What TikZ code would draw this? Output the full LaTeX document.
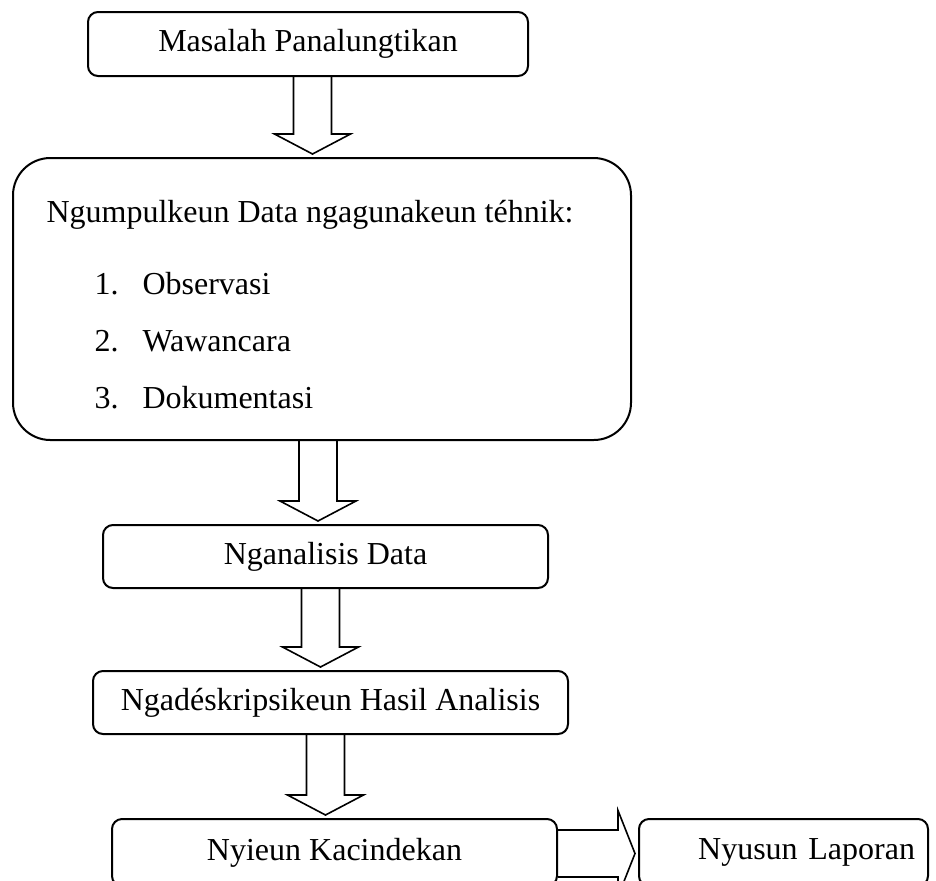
\documentclass[tikz,border=0pt]{standalone}
\usepackage{fontspec}
\setmainfont{Liberation Serif}
\usetikzlibrary{calc, positioning}
\tikzset{
    kotak/.style={rectangle, rounded corners=3.75pt, draw=black, line width=0.75pt, inner sep=0pt},
    kotakgede/.style={rectangle, rounded corners=14pt, draw=black, line width=0.75pt, inner sep=0pt},
    teks/.style={inner sep=0pt, anchor=base west},
    panah/.style={draw=black, line width=0.6pt, line join=miter}}
% panah blok ka handap: asal, tujuan, x sumbu
\newcommand{\panahturun}[3]{%
    \coordinate (pangkal) at (#1.south -| #3,0);
    \coordinate (tmp) at (#2.north -| #3,0);
    \coordinate (tungtung) at ($(tmp)+(0,-3)$);
    \draw[panah] ($(pangkal)+(-19,0)$) -- ($(tungtung)+(-19,-20)$) -- ($(tungtung)+(-38,-20)$)
        -- (tungtung) -- ($(tungtung)+(38,-20)$) -- ($(tungtung)+(19,-20)$) -- ($(pangkal)+(19,0)$);}
% panah blok ka katuhu: asal, tujuan
\newcommand{\panahkanan}[2]{%
    \coordinate (pangkal) at ($(#1.east)+(0,1)$);
    \coordinate (tungtung) at ($(#2.west)+(-3,1)$);
    \draw[panah] ($(pangkal)+(0,-23.5)$) -- ($(tungtung)+(-17,-23.5)$) -- ($(tungtung)+(-17,-43)$)
        -- (tungtung) -- ($(tungtung)+(-17,43)$) -- ($(tungtung)+(-17,23.5)$) -- ($(pangkal)+(0,23.5)$);}

\begin{document}
\begin{tikzpicture}[x=0.375pt, y=-0.375pt, font=\fontsize{12pt}{14pt}\selectfont]
    \useasboundingbox (0,0) rectangle (936,880);
    % kotak-kotak
    \node (masalah) [kotak, minimum width=165pt, minimum height=24pt] at (308,44) {Masalah Panalungtikan};
    \node (ngumpulkeun) [kotakgede, minimum width=231.75pt, minimum height=105.75pt] at (322,299) {};
    \node (judul) [teks] at (46,222) {Ngumpulkeun Data ngagunakeun téhnik:};
    \foreach \i/\isi/\y in {1/Observasi/294, 2/Wawancara/351, 3/Dokumentasi/408} {
        \node (no\i) [teks] at (94,\y) {\i.};
        \node (item\i) [teks] at (142,\y) {\isi};
    }
    \node (analisis) [kotak, minimum width=166.875pt, minimum height=23.625pt] at (325.5,556.5) {Nganalisis Data};
    \node (deskripsi) [kotak, minimum width=178.125pt, minimum height=23.625pt] at (330.5,702.5) {Ngadéskripsikeun Hasil Analisis};
    \node (kacindekan) [kotak, minimum width=166.875pt, minimum height=25.125pt] at (334.5,852.5) {Nyieun Kacindekan};
    \node (laporan) [kotak, minimum width=108.375pt, minimum height=25.125pt, text width=98.625pt, align=right] at (783.5,852.5) {Nyusun Laporan};
    % panah
    \panahturun{masalah}{ngumpulkeun}{312.5}
    \panahturun{ngumpulkeun}{analisis}{318}
    \panahturun{analisis}{deskripsi}{320.5}
    \panahturun{deskripsi}{kacindekan}{325.5}
    \panahkanan{kacindekan}{laporan}
\end{tikzpicture}
\end{document}
